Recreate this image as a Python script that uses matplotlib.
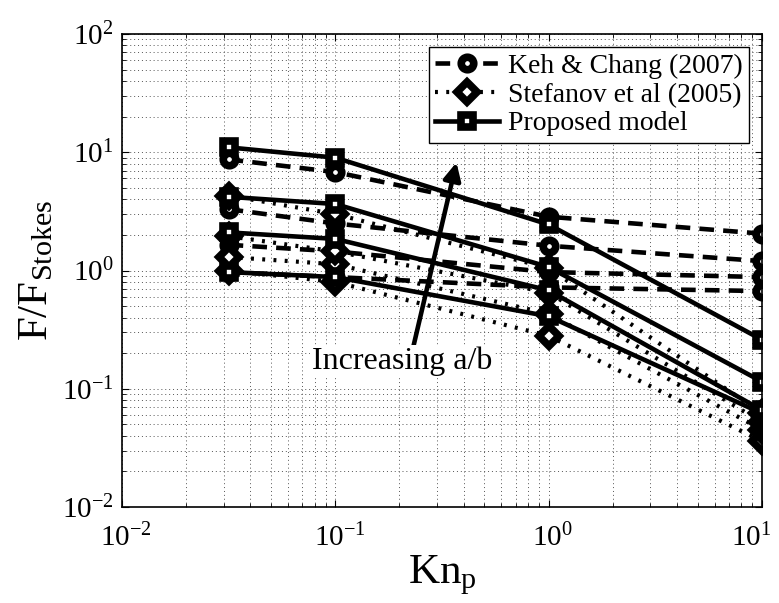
import numpy as np
import matplotlib
matplotlib.use("Agg")
import matplotlib.pyplot as plt
from matplotlib.transforms import ScaledTranslation, blended_transform_factory

plt.rcParams['font.family'] = ['Liberation Serif', 'DejaVu Serif']
plt.rcParams['mathtext.fontset'] = 'custom'
plt.rcParams['mathtext.rm'] = 'Liberation Serif'
plt.rcParams['mathtext.it'] = 'Liberation Serif:italic'

# Knudsen numbers
kn = [0.0316, 0.1, 1.0, 10.0]

# Keh & Chang (2007), one row per a/b
keh = [
    [0.97, 0.88, 0.72, 0.67],
    [1.65, 1.45, 0.97, 0.88],
    [3.3, 2.5, 1.62, 1.2],
    [8.7, 6.8, 2.85, 2.05],
]
# Stefanov et al (2005)
stef = [
    [1.0, 0.8, 0.28, 0.036],
    [1.3, 1.13, 0.43, 0.045],
    [1.95, 1.45, 0.65, 0.052],
    [4.3, 3.0, 1.05, 0.062],
]
# Proposed model
prop = [
    [0.97, 0.88, 0.41, 0.062],
    [2.1, 1.85, 0.68, 0.066],
    [4.2, 3.65, 1.07, 0.115],
    [11.0, 9.0, 2.45, 0.26],
]

# x tick decades
xdec = [-2, -1, 0, 1]

fig = plt.figure(figsize=(7.79, 6.03), dpi=100)
ax = fig.add_axes([0.1566, 0.1592, 0.8214, 0.7844])

for i, row in enumerate(keh):
    ax.plot(kn, row, color='k', ls=(0, (3.2, 2.0)), lw=3.3, marker='o', ms=9,
            mfc='white', mec='k', mew=5.5,
            label='Keh & Chang (2007)' if i == 0 else None)
for i, row in enumerate(stef):
    ax.plot(kn, row, color='k', ls=(0, (0.7, 2.0)), lw=3.0, marker='D', ms=10,
            mfc='white', mec='k', mew=5.5,
            label='Stefanov et al (2005)' if i == 0 else None)
for i, row in enumerate(prop):
    ax.plot(kn, row, color='k', ls='-', lw=3.3, marker='s', ms=9,
            mfc='white', mec='k', mew=5.5,
            label='Proposed model' if i == 0 else None)

ax.set_xscale('log')
ax.set_yscale('log')
ax.set_xlim(1e-2, 1e1)
ax.set_ylim(1e-2, 1e2)

ax.grid(True, which='both', ls=(0, (1, 3)), lw=0.7, color='#555555')
ax.tick_params(which='both', direction='in', top=True, right=True,
               labelsize=21)
ax.tick_params(axis='x', labelbottom=False)
ax.tick_params(which='major', length=5)
ax.tick_params(axis='y', which='major', pad=6)
ax.tick_params(which='minor', length=3)
for s in ax.spines.values():
    s.set_linewidth(1.2)

# x tick labels drawn by hand so the last one stays inside the figure
tr = blended_transform_factory(ax.transData, ax.transAxes)
for d in xdec:
    last = d == xdec[-1]
    dx = 7 if last else 3
    ax.text(10.0 ** d, -0.035, '$10^{%d}$' % d, fontsize=21,
            ha='right' if last else 'center', va='top',
            transform=tr + ScaledTranslation(dx / 72, 0, fig.dpi_scale_trans))

ax.set_xlabel('Kn$_{\\rm p}$', fontsize=31, labelpad=30)
ax.set_ylabel('F/F$_{\\rm Stokes}$', fontsize=31, labelpad=4)

ax.annotate('', xy=(0.37, 8.2), xytext=(0.232, 0.225),
            arrowprops=dict(arrowstyle='-|>', color='k', lw=3.3,
                            mutation_scale=26, shrinkA=0, shrinkB=0))
ax.text(0.205, 0.172, 'Increasing a/b', fontsize=23, ha='center',
        va='center',
        bbox=dict(facecolor='white', edgecolor='none', pad=1))

leg = ax.legend(loc='upper right', fontsize=20, handlelength=2.3,
                borderaxespad=0.45, fancybox=False, framealpha=1,
                edgecolor='k', labelspacing=0.12, borderpad=0.25,
                handletextpad=0.3)
leg.get_frame().set_linewidth(1.0)

fig.savefig('out.png', dpi=100)
